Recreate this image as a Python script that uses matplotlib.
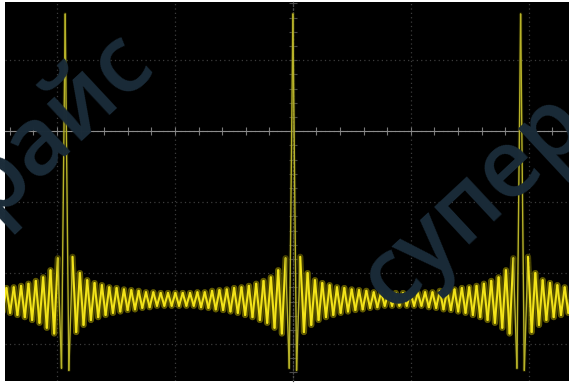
import numpy as np
import matplotlib.pyplot as plt
from matplotlib.collections import LineCollection
from matplotlib.ticker import MultipleLocator

period_mv = [
    165, -337, -177, -283, -200, -273, -210, -266, -214, -262,
    -217, -259, -220, -256, -221, -254, -223, -252, -224, -251,
    -225, -249, -227, -248, -227, -246, -228, -246, -228, -246,
    -228, -246, -228, -246, -228, -246, -227, -248, -227, -249,
    -225, -251, -224, -252, -223, -254, -221, -256, -220, -259,
    -218, -262, -215, -266, -211, -270, -206, -277, -196, -285,
    -179, -334,
]
pulse_period_ns = 193.0     # spike to spike
n_periods = 4               # screen shows ~2.5 periods, draw a little more
first_spike_ns = -386.0

# time axis: 100 ns/div, volts: 100 mV/div, screen centre = (0, 0)
x_left, x_right = -244, 234
y_bottom, y_top = -352, 182

v = np.append(np.tile(period_mv, n_periods), period_mv[0])
dt = pulse_period_ns / len(period_mv)
t = first_spike_ns + np.arange(len(v)) * dt

fig = plt.figure(figsize=(5.69, 3.83), dpi=100, facecolor='white')
ax = fig.add_axes([5/569, 2/383, 564/569, 379/383])
ax.set_facecolor('black')
ax.set_xlim(x_left, x_right)
ax.set_ylim(y_bottom, y_top)

# graticule
ax.xaxis.set_major_locator(MultipleLocator(100))
ax.xaxis.set_minor_locator(MultipleLocator(20))
ax.yaxis.set_major_locator(MultipleLocator(100))
ax.yaxis.set_minor_locator(MultipleLocator(20))
ax.grid(True, which='major', color='#3c3c3c', linestyle=(0, (1, 2.5)), linewidth=0.9)

for s in ['top', 'right']:
    ax.spines[s].set_visible(False)
ax.spines['bottom'].set_position(('data', 0))
ax.spines['bottom'].set_color('#8c8c8c')
ax.spines['bottom'].set_linewidth(0.8)
ax.spines['left'].set_position(('data', 0))
ax.spines['left'].set_color('#4a4a4a')
ax.spines['left'].set_linestyle((0, (1, 2)))
ax.spines['left'].set_linewidth(0.9)
ax.tick_params(axis='x', which='both', direction='inout', length=6, width=0.8,
               color='#7a7a7a', labelbottom=False)
ax.tick_params(axis='y', which='both', direction='inout', length=6, width=0.8,
               color='#4a4a4a', labelleft=False)

# watermark
wm = dict(color='#1a2b38', fontsize=68, fontweight='semibold', family='Open Sans',
          rotation=43, rotation_mode='anchor', ha='left', va='baseline',
          zorder=0.5, transform=fig.transFigure)
fig.text(-8/569, 1 - 218/383, 'райс', **wm)
fig.text(392/569, 1 - 312/383, 'супер', **wm)

# trace with phosphor glow; steep edges drawn dimmer, like on the screen
pts = np.column_stack([t, v])
segs = np.stack([pts[:-1], pts[1:]], axis=1)
steep = np.abs(np.diff(v)) > 150
core = np.where(steep[:, None], [0.72, 0.70, 0.16, 1.0], [0.95, 0.89, 0.10, 1.0])
glow = np.where(steep[:, None], [0.30, 0.29, 0.0, 0.25], [0.45, 0.42, 0.0, 0.6])
ax.add_collection(LineCollection(segs, colors=glow,
                                 linewidths=np.where(steep, 2.5, 4.5),
                                 capstyle='round', zorder=3))
ax.add_collection(LineCollection(segs, colors=core,
                                 linewidths=np.where(steep, 1.0, 1.5),
                                 capstyle='round', zorder=4))

fig.savefig('out.png', dpi=100, facecolor='white')
